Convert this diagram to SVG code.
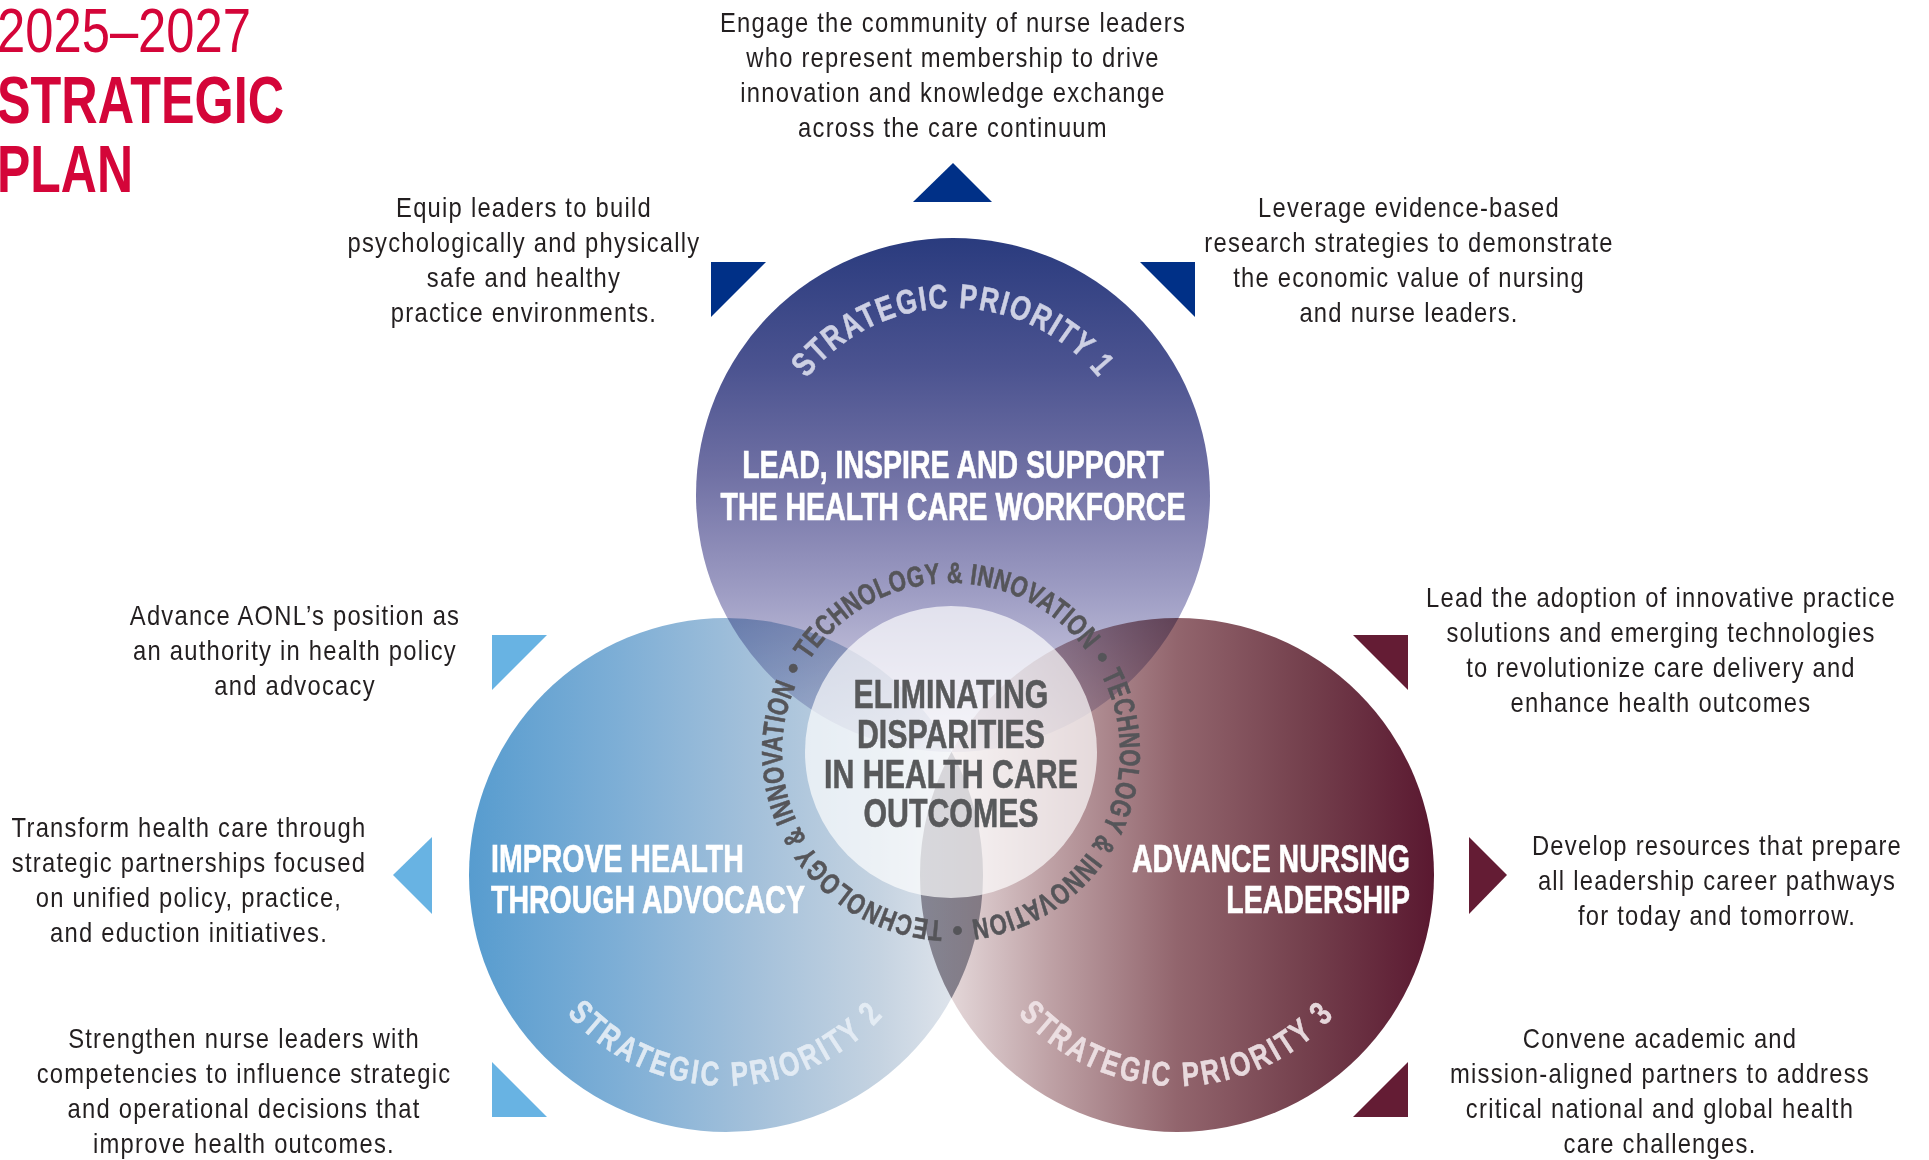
<svg xmlns="http://www.w3.org/2000/svg" width="1929" height="1160" viewBox="0 0 1929 1160">
<defs>
<style>
.f{font-family:"Liberation Sans",Arial,sans-serif}
.desc{font-size:28px;fill:#231F20;text-anchor:middle;letter-spacing:1.45px}
.head{font-weight:bold;font-size:38px;fill:#FFFFFF;stroke:#FFFFFF;stroke-width:0.6px}
.ctr{font-weight:bold;font-size:41px;fill:#58595B;stroke:#58595B;stroke-width:0.6px;text-anchor:middle}
.ring{font-weight:bold;font-size:29px;fill:#555559;stroke:#555559;stroke-width:0.6px;letter-spacing:0.5px;text-anchor:middle}
.prio{font-weight:bold;font-size:34px;text-anchor:middle;stroke-width:0.5px}
.title{fill:#D40539}
.circ{mix-blend-mode:multiply}
.navy{fill:#003087}
.sky{fill:#68B3E3}
.wine{fill:#641C34}
</style>
<linearGradient id="gTop" gradientUnits="userSpaceOnUse" x1="0" y1="238" x2="0" y2="752">
<stop offset="0" stop-color="#2A3B7E"/>
<stop offset="0.25" stop-color="#4B5390"/>
<stop offset="0.45" stop-color="#6E6FA3"/>
<stop offset="0.6" stop-color="#8C8BB7"/>
<stop offset="0.7" stop-color="#A09FC5"/>
<stop offset="1" stop-color="#E4E2EF"/>
</linearGradient>
<linearGradient id="gLeft" gradientUnits="userSpaceOnUse" x1="469" y1="0" x2="983" y2="0">
<stop offset="0" stop-color="#579CCF"/>
<stop offset="0.3" stop-color="#7FAFD6"/>
<stop offset="0.55" stop-color="#A3C0DA"/>
<stop offset="0.8" stop-color="#C5D3E1"/>
<stop offset="1" stop-color="#E8EAEF"/>
</linearGradient>
<linearGradient id="gRight" gradientUnits="userSpaceOnUse" x1="920" y1="0" x2="1434" y2="0">
<stop offset="0" stop-color="#EFE7E8"/>
<stop offset="0.25" stop-color="#BFA2A6"/>
<stop offset="0.5" stop-color="#92656D"/>
<stop offset="0.75" stop-color="#74404D"/>
<stop offset="1" stop-color="#5A1830"/>
</linearGradient>
<path id="arcTop" d="M 766,495 A 187 187 0 0 1 1140,495"/>
<path id="arcLeft" d="M 515,875 A 211 211 0 0 0 937,875"/>
<path id="arcRight" d="M 966,875 A 211 211 0 0 0 1388,875"/>
<path id="ringPath" d="M 951,583 A 169 169 0 0 1 951,921 A 169 169 0 0 1 951,583 A 169 169 0 0 1 951,921 A 169 169 0 0 1 951,583"/>
</defs>
<rect x="0" y="0" width="1929" height="1160" fill="#FFFFFF"/>

<g id="title" class="f title">
<text x="-3" y="52" font-size="63" textLength="254" lengthAdjust="spacingAndGlyphs">2025–2027</text>
<text x="-3" y="123" font-size="66" font-weight="bold" textLength="287" lengthAdjust="spacingAndGlyphs">STRATEGIC</text>
<text x="-3" y="192" font-size="66" font-weight="bold" textLength="136" lengthAdjust="spacingAndGlyphs">PLAN</text>
</g>

<g id="circles" style="isolation:isolate">
<circle id="circle-priority-1" class="circ" cx="953" cy="495" r="257" fill="url(#gTop)"/>
<circle id="circle-priority-2" class="circ" cx="726" cy="875" r="257" fill="url(#gLeft)"/>
<circle id="circle-priority-3" class="circ" cx="1177" cy="875" r="257" fill="url(#gRight)"/>
<path class="circ" d="M 951.5,751.7 A 257 257 0 0 1 951.5,998.3 A 257 257 0 0 1 951.5,751.7 Z" fill="#ABABB3"/>
</g>

<g id="priority-1" class="f">
<text class="prio" fill="#CDD0E4" stroke="#CDD0E4" letter-spacing="2"><textPath href="#arcTop" startOffset="50%" textLength="336" lengthAdjust="spacingAndGlyphs">STRATEGIC PRIORITY 1</textPath></text>
<g transform="translate(953,0) scale(0.75,1)"><text class="head" text-anchor="middle"><tspan x="0" y="478">LEAD, INSPIRE AND SUPPORT</tspan><tspan x="0" y="520">THE HEALTH CARE WORKFORCE</tspan></text></g>
</g>

<g id="priority-2" class="f">
<text class="prio" fill="#E6EEF5" stroke="#E6EEF5" fill-opacity="0.92" stroke-opacity="0.92" letter-spacing="4"><textPath href="#arcLeft" startOffset="50%" textLength="360" lengthAdjust="spacingAndGlyphs">STRATEGIC PRIORITY 2</textPath></text>
<g transform="translate(491,0) scale(0.75,1)"><text class="head"><tspan x="0" y="872">IMPROVE HEALTH</tspan><tspan x="0" y="913">THROUGH ADVOCACY</tspan></text></g>
</g>

<g id="priority-3" class="f">
<text class="prio" fill="#F0E4E7" stroke="#F0E4E7" fill-opacity="0.92" stroke-opacity="0.92" letter-spacing="4"><textPath href="#arcRight" startOffset="50%" textLength="360" lengthAdjust="spacingAndGlyphs">STRATEGIC PRIORITY 3</textPath></text>
<g transform="translate(1410,0) scale(0.75,1)"><text class="head" text-anchor="end"><tspan x="0" y="872">ADVANCE NURSING</tspan><tspan x="0" y="913">LEADERSHIP</tspan></text></g>
</g>

<g id="center" class="f">
<circle cx="951" cy="752" r="146" fill="#FFFFFF" fill-opacity="0.68"/>
<g transform="translate(951,0) scale(0.74,1)"><text class="ctr"><tspan x="0" y="708">ELIMINATING</tspan><tspan x="0" y="748">DISPARITIES</tspan><tspan x="0" y="788">IN HEALTH CARE</tspan><tspan x="0" y="827">OUTCOMES</tspan></text></g>
<text class="ring"><textPath href="#ringPath" startOffset="49.72%" textLength="326" lengthAdjust="spacingAndGlyphs">TECHNOLOGY &amp; INNOVATION</textPath></text>
<text class="ring"><textPath href="#ringPath" startOffset="16.39%" textLength="326" lengthAdjust="spacingAndGlyphs">TECHNOLOGY &amp; INNOVATION</textPath></text>
<text class="ring"><textPath href="#ringPath" startOffset="33.06%" textLength="326" lengthAdjust="spacingAndGlyphs">TECHNOLOGY &amp; INNOVATION</textPath></text>
<text class="ring"><textPath href="#ringPath" startOffset="8.06%">•</textPath></text>
<text class="ring"><textPath href="#ringPath" startOffset="24.72%">•</textPath></text>
<text class="ring"><textPath href="#ringPath" startOffset="41.39%">•</textPath></text>
</g>

<g id="connectors">
<polygon class="navy" points="913,202 992,202 953,163"/>
<polygon class="navy" points="711,262 766,262 711,317"/>
<polygon class="navy" points="1140,262 1195,262 1195,317"/>
<polygon class="sky" points="492,635 547,635 492,690"/>
<polygon class="sky" points="432,837 432,914 393,875"/>
<polygon class="sky" points="492,1062 492,1117 547,1117"/>
<polygon class="wine" points="1353,635 1408,635 1408,690"/>
<polygon class="wine" points="1469,837 1469,914 1507,875"/>
<polygon class="wine" points="1408,1062 1408,1117 1353,1117"/>
</g>

<g id="goal-top" class="f" transform="translate(953,0) scale(0.85,1)"><text class="desc"><tspan x="0" y="32">Engage the community of nurse leaders</tspan><tspan x="0" y="67">who represent membership to drive</tspan><tspan x="0" y="102">innovation and knowledge exchange</tspan><tspan x="0" y="137">across the care continuum</tspan></text></g>

<g id="goal-upper-left" class="f" transform="translate(524,0) scale(0.85,1)"><text class="desc"><tspan x="0" y="217">Equip leaders to build</tspan><tspan x="0" y="252">psychologically and physically</tspan><tspan x="0" y="287">safe and healthy</tspan><tspan x="0" y="322">practice environments.</tspan></text></g>

<g id="goal-upper-right" class="f" transform="translate(1409,0) scale(0.85,1)"><text class="desc"><tspan x="0" y="217">Leverage evidence-based</tspan><tspan x="0" y="252">research strategies to demonstrate</tspan><tspan x="0" y="287">the economic value of nursing</tspan><tspan x="0" y="322">and nurse leaders.</tspan></text></g>

<g id="goal-left-1" class="f" transform="translate(295,0) scale(0.85,1)"><text class="desc"><tspan x="0" y="625">Advance AONL’s position as</tspan><tspan x="0" y="660">an authority in health policy</tspan><tspan x="0" y="695">and advocacy</tspan></text></g>

<g id="goal-left-2" class="f" transform="translate(189,0) scale(0.85,1)"><text class="desc"><tspan x="0" y="837">Transform health care through</tspan><tspan x="0" y="872">strategic partnerships focused</tspan><tspan x="0" y="907">on unified policy, practice,</tspan><tspan x="0" y="942">and eduction initiatives.</tspan></text></g>

<g id="goal-left-3" class="f" transform="translate(244,0) scale(0.85,1)"><text class="desc"><tspan x="0" y="1048">Strengthen nurse leaders with</tspan><tspan x="0" y="1083">competencies to influence strategic</tspan><tspan x="0" y="1118">and operational decisions that</tspan><tspan x="0" y="1153">improve health outcomes.</tspan></text></g>

<g id="goal-right-1" class="f" transform="translate(1661,0) scale(0.85,1)"><text class="desc"><tspan x="0" y="607">Lead the adoption of innovative practice</tspan><tspan x="0" y="642">solutions and emerging technologies</tspan><tspan x="0" y="677">to revolutionize care delivery and</tspan><tspan x="0" y="712">enhance health outcomes</tspan></text></g>

<g id="goal-right-2" class="f" transform="translate(1717,0) scale(0.85,1)"><text class="desc"><tspan x="0" y="855">Develop resources that prepare</tspan><tspan x="0" y="890">all leadership career pathways</tspan><tspan x="0" y="925">for today and tomorrow.</tspan></text></g>

<g id="goal-right-3" class="f" transform="translate(1660,0) scale(0.85,1)"><text class="desc"><tspan x="0" y="1048">Convene academic and</tspan><tspan x="0" y="1083">mission-aligned partners to address</tspan><tspan x="0" y="1118">critical national and global health</tspan><tspan x="0" y="1153">care challenges.</tspan></text></g>
</svg>
